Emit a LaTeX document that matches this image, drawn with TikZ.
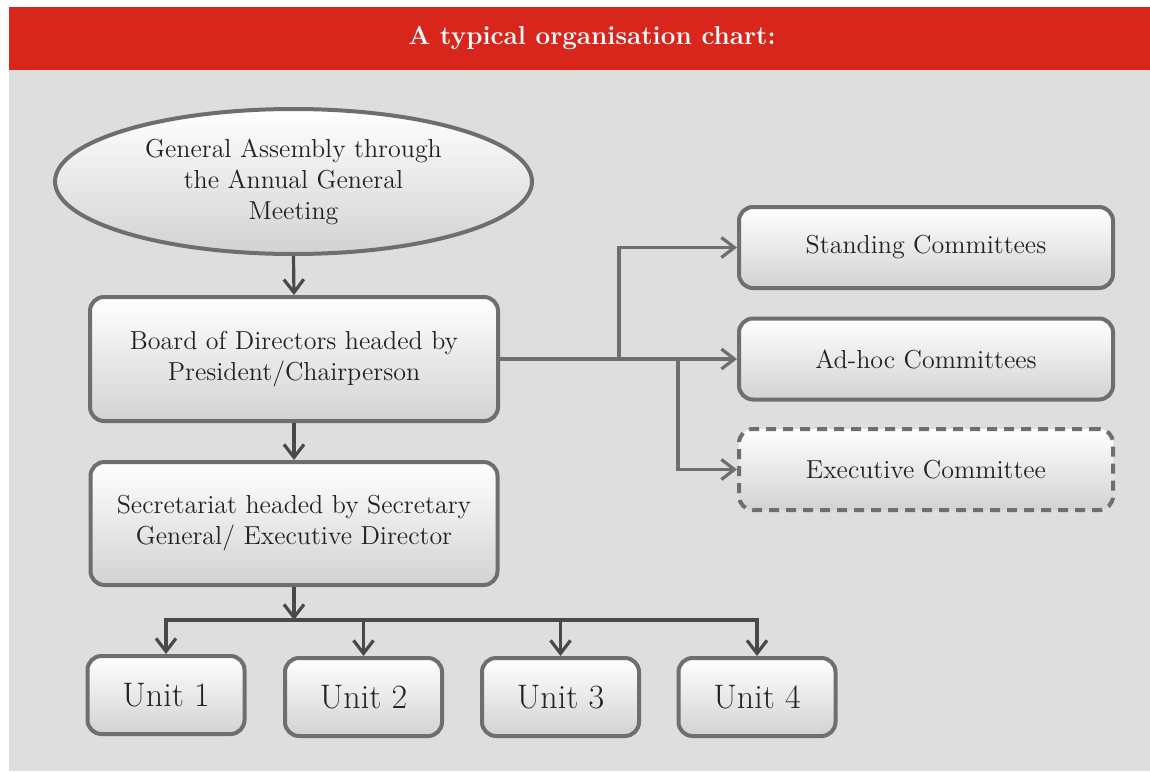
\documentclass[tikz,border=0pt]{standalone}
\usetikzlibrary{arrows.meta,shapes.geometric}
\definecolor{titlered}{RGB}{217,38,28}
\definecolor{panelgray}{RGB}{222,222,222}
\definecolor{edgegray}{RGB}{110,110,110}
\definecolor{linkgray}{RGB}{75,72,72}
\definecolor{shadegray}{RGB}{210,210,210}
\definecolor{inkgray}{RGB}{35,33,33}
\begin{document}
\begin{tikzpicture}[x=0.5pt,y=-0.5pt,>={Straight Barb[length=6.5pt,width=10pt]},
	box/.style={draw=edgegray,line width=2pt,rounded corners=7pt,top color=white,bottom color=shadegray,
		align=center,text=inkgray,inner sep=0pt,font=\fontsize{13}{15.5}\selectfont},
	unitbox/.style={box,minimum width=78.5pt,minimum height=39pt,font=\fontsize{17}{20}\selectfont},
	combox/.style={box,minimum width=187pt,minimum height=40.5pt},
	link/.style={draw=linkgray,line width=1.6pt},
	sidelink/.style={draw=edgegray,line width=1.6pt}]
	\useasboundingbox (0,0) rectangle (1150,771);
	\fill[panelgray] (9,70) rectangle (1150,771);
	\fill[titlered] (9,7) rectangle (1150,70);
	\node[text=white,font=\bfseries\fontsize{13}{15}\selectfont] (title) at (592,38) {A typical organisation chart:};
	\node[box,ellipse,rounded corners=0pt,minimum width=238.5pt,minimum height=72.5pt] (ga) at (293.5,181.5) {General Assembly through\\the Annual General\\Meeting};
	\node[box,minimum width=204pt,minimum height=62pt] (board) at (294,359) {Board of Directors headed by\\President/Chairperson};
	\node[box,minimum width=203.5pt,minimum height=61.5pt] (sec) at (294,523.5) {Secretariat headed by Secretary\\General/ Executive Director};
	\node[unitbox] (unit1) at (166,695) {Unit 1};
	\node[unitbox] (unit2) at (363.5,697) {Unit 2};
	\node[unitbox] (unit3) at (560.5,697) {Unit 3};
	\node[unitbox] (unit4) at (757,697) {Unit 4};
	\node[combox] (standing) at (926,247.5) {Standing Committees};
	\node[combox] (adhoc) at (926,359) {Ad-hoc Committees};
	\node[combox,dashed,dash pattern=on 5pt off 3.5pt] (exec) at (926,469.5) {Executive Committee};
	\coordinate (bus) at (294,620);
	\coordinate (fork1) at (619,359);
	\coordinate (fork2) at (678,359);
	\draw[link,->] (ga.south) -- (board.north);
	\draw[link,->] (board.south) -- (sec.north);
	\draw[link,->] (sec.south) -- (bus);
	\draw[link,<->] (unit1.north) -- (unit1.north |- bus) -- (unit4.north |- bus) -- (unit4.north);
	\foreach \i in {2,3}
		\draw[link,->] (unit\i.north |- bus) -- (unit\i.north);
	\draw[sidelink,->] (board.east) -- (adhoc.west);
	\draw[sidelink,->] (fork1) |- (standing.west);
	\draw[sidelink,->] (fork2) |- (exec.west);
\end{tikzpicture}
\end{document}
